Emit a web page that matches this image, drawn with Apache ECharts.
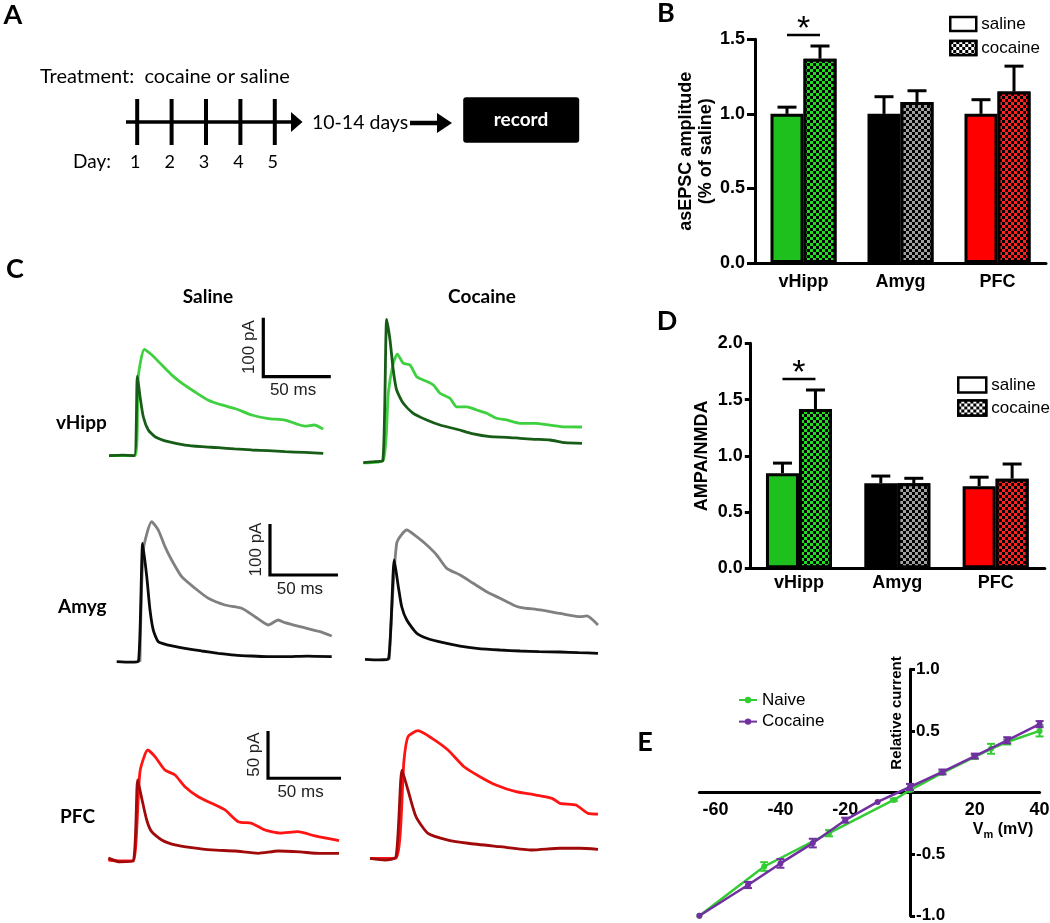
<!DOCTYPE html>
<html>
<head>
<meta charset="utf-8">
<script src="https://cdn.jsdelivr.net/npm/echarts@6/dist/echarts.min.js"></script>
<style>html,body{margin:0;padding:0;background:#fff}#c{width:1050px;height:923px}</style>
</head>
<body>
<div id="c"></div>
<script>
// ---------------- DATA ----------------
const days = [1, 2, 3, 4, 5];
const regions = ['vHipp', 'Amyg', 'PFC'];
const significant = [true, false, false];

// Panel B: asEPSC amplitude (fraction of saline)
const asEpscSaline = [1.00, 1.00, 1.00];
const asEpscSalineErr = [0.045, 0.115, 0.095];
const asEpscCocaine = [1.37, 1.08, 1.15];
const asEpscCocaineErr = [0.085, 0.075, 0.17];

// Panel D: AMPA/NMDA
const ampaNmdaSaline = [0.845, 0.755, 0.73];
const ampaNmdaSalineErr = [0.09, 0.065, 0.08];
const ampaNmdaCocaine = [1.415, 0.755, 0.797];
const ampaNmdaCocaineErr = [0.17, 0.045, 0.13];

// Panel E: I-V relation
const ivNaiveVm = [-65, -45, -25, -5, 0, 10, 20, 25, 30, 40];
const ivNaiveI = [-1.0, -0.60, -0.33, -0.06, 0.02, 0.16, 0.29, 0.355, 0.41, 0.50];
const ivNaiveErr = [0, 0.035, 0.025, 0.01, 0.01, 0.01, 0.015, 0.04, 0.02, 0.045];
const ivCocaineVm = [-65, -50, -40, -30, -20, -10, 0, 10, 20, 30, 40];
const ivCocaineI = [-1.0, -0.75, -0.575, -0.41, -0.224, -0.076, 0.045, 0.167, 0.296, 0.424, 0.555];
const ivCocaineErr = [0, 0.025, 0.035, 0.035, 0.02, 0, 0.025, 0.02, 0.02, 0.025, 0.025];

// Panel C: traces [time ms, current pA]
const vHippSalineFast = [[0,0],[10,1],[18.7,0],[21,135],[23,100],[25.4,66],[29.1,43.6],[34.1,32.2],[43.9,23.7],[56.3,18],[68.7,15.3],[81,13.6],[93,11.5],[105.7,9.7],[118,8.5],[130.4,6.8],[145,5.5],[158.7,4]];
const vHippSalineSlow = [[0,0],[19.3,0],[21.7,134],[26.1,180],[31.6,171],[39,154],[46.4,137],[53.9,123],[63.7,108],[73.6,94],[83.5,86],[93.3,80],[105.7,69],[118,63],[130.4,60.5],[145.2,50],[152,52],[158.7,45]];
const vHippCocaineFast = [[0,-1.4],[8,0],[14.4,1.2],[17.3,241],[19.8,206],[22.2,155],[24.7,121.5],[29.6,99],[37,82],[47,70.7],[56.8,62.2],[69.2,55],[81.5,47],[93.9,42.4],[106.2,41.4],[116.1,39.7],[127,38],[138.3,36.8],[149.4,32.2],[162,31]];
const vHippCocaineSlow = [[0,-2],[14.8,3],[18.5,116],[22.2,167],[25.2,182.5],[29.6,167],[34.6,164],[39.6,144],[44.5,138.5],[51.9,130],[56.8,116],[64.2,107.5],[69.2,93],[76.6,93],[84,87.6],[91.4,82],[98.8,73.6],[106.2,70.7],[116.1,65],[127.2,65],[138.3,62],[149.4,59],[162,58.8]];
const amygSalineFast = [[0,0],[10,-1],[15.9,0],[19.1,232],[22.1,166.7],[24.5,101],[26.9,62],[30.6,39],[37.9,32.7],[50.2,26.3],[62.5,21],[74.7,16.5],[87,13],[99.3,11.2],[111,10],[123.8,9.8],[140,11],[158.1,9.8]];
const amygSalineSlow = [[17.1,0],[19.6,219],[25.7,274.5],[30.6,258],[35.5,225.5],[40.4,199.4],[47.8,166.7],[57.6,144],[67.4,124.3],[79.6,111.2],[91.9,104.7],[101.7,88.2],[111.5,72],[118.8,81.8],[123.8,76.5],[134.8,68.6],[149.5,58.8],[158.1,50.4]];
const amygCocaineFast = [[0,0],[10,-1],[17.1,0],[21.5,194.7],[24.5,142.4],[27,103],[30.7,77],[38,51],[45.4,41.2],[57.6,32.5],[69.9,26],[82.1,21.6],[99.3,18.2],[114,16.3],[128,15],[143.4,14.3],[157,13],[171.3,11.8]];
const amygCocaineSlow = [[17.9,0],[23.3,227.5],[30.7,253.5],[38,240.4],[45.4,224],[52.7,204.5],[60.1,178.4],[69.9,165.3],[79.6,149],[89.5,132.5],[99.3,119.6],[109,106.5],[114,102],[128.7,96.7],[143.4,90],[158.1,83.5],[163,85],[171.3,67.3]];
const pfcSalineFast = [[0,2],[8,-2],[17.1,-1],[20.1,84.6],[22.9,65.2],[26.3,42.3],[29.7,29.9],[36.6,21.1],[45.7,15.9],[57.1,13],[70.8,10.6],[86.8,9.5],[102.7,7.1],[116.4,9.5],[131.3,8.5],[145,7],[158,7.1]];
const pfcSalineSlow = [[0,0],[8,-1],[17.1,-1],[21.7,93.3],[27,116.3],[32,109.2],[38.8,95.1],[45.7,89.9],[52.5,77.5],[61.6,66.9],[70.8,59.9],[79.9,52.9],[89,40.5],[98.2,38.8],[107.3,31.7],[117.6,28.5],[129.9,29.9],[141.6,25.4],[158,20.4]];
const pfcCocaineFast = [[0,0],[10.3,-1.8],[17.8,1.4],[21.9,93.3],[26,72.2],[31.5,44],[39.7,26.4],[53.4,19.3],[67.1,15.9],[89,12.3],[111,8.8],[130.1,10.6],[143.8,10.6],[156.2,9.5]];
const pfcCocaineSlow = [[0,0],[17.8,0.3],[23.3,103.9],[26,128.5],[32.9,134.9],[42.5,126.8],[53.4,114.5],[64.4,96.8],[75.3,86.3],[86.3,77.5],[100,70.4],[113.7,66.9],[124.7,63.4],[130.1,58.1],[141.1,56.3],[149.3,47.5],[156.2,46.8]];

// scale bars (per row): anchor [ms, pA], lengths
const scaleBarAnchor = [[114.3, 134], [112.7, 170], [109.4, 86.4]];
const scaleBarMs = [50, 50, 50];
const scaleBarPa = [100, 100, 50];

// ---------------- STYLE / LAYOUT ----------------
const ARIAL = '"Liberation Sans", Arial, sans-serif';
const CAL = 'Lato, "Open Sans", sans-serif';
const salineColors = ['#1ec01e', '#000000', '#ff0000'];
const cocaineDots = ['#22dd22', '#a0a0a0', '#ff2020'];
const greenIV = '#33cc33', purpleIV = '#7030a0';

function checker(color) {
  return { symbol: 'rect', symbolSize: 1, color: color, dashArrayX: [[3, 3], [0, 3, 3, 0]], dashArrayY: [3, 0], rotation: 0 };
}

const cells = [
  { x0: 109,   y0: 455.7, ms: 1.35, pa: 0.59,  iMin: -20, iMax: 260 },
  { x0: 363.3, y0: 461.7, ms: 1.35, pa: 0.59,  iMin: -20, iMax: 260 },
  { x0: 116.7, y0: 661.7, ms: 1.36, pa: 0.51,  iMin: -20, iMax: 300 },
  { x0: 365,   y0: 659.3, ms: 1.36, pa: 0.51,  iMin: -20, iMax: 300 },
  { x0: 108.3, y0: 860,   ms: 1.46, pa: 0.946, iMin: -20, iMax: 150 },
  { x0: 370,   y0: 858.3, ms: 1.46, pa: 0.946, iMin: -20, iMax: 150 }
];
const T_MAX = 180;

const traces = [
  [0, vHippSalineSlow, '#3fd03f'], [0, vHippSalineFast, '#175c17'],
  [1, vHippCocaineSlow, '#3fd03f'], [1, vHippCocaineFast, '#175c17'],
  [2, amygSalineSlow, '#808080'], [2, amygSalineFast, '#0a0a0a'],
  [3, amygCocaineSlow, '#808080'], [3, amygCocaineFast, '#0a0a0a'],
  [4, pfcSalineSlow, '#ff1414'], [4, pfcSalineFast, '#a00a0a'],
  [5, pfcCocaineSlow, '#ff1414'], [5, pfcCocaineFast, '#a00a0a']
];

// Panel E axis ranges
const E_X = [-65, 40], E_Y = [-1, 1];
const E_GRID = { left: 699.4, top: 669.3, width: 340.2, height: 246.5 };

// ---------------- GRIDS & AXES ----------------
const grids = [
  { left: 102.8, top: 98, width: 481.6, height: 48 },            // 0: A
  { left: 755, top: 39.3, width: 291, height: 223.7 },           // 1: B
  { left: 749.8, top: 343.3, width: 295, height: 225 },          // 2: D
  E_GRID                                                         // 3: E
];
cells.forEach(c => grids.push({ left: c.x0, top: c.y0 - c.iMax * c.pa, width: T_MAX * c.ms, height: (c.iMax - c.iMin) * c.pa }));
grids.forEach(g => { g.containLabel = false; g.outerBoundsMode = 'none'; });

const blackLine = { color: '#000', width: 3 };
const boldLab = { color: '#000', fontFamily: ARIAL, fontWeight: 'bold', fontSize: 18 };

// crossing axes of E: shift each axis to the other's zero
const eYOffset = -((0 - E_X[0]) / (E_X[1] - E_X[0])) * E_GRID.width;
const eXOffset = -((0 - E_Y[0]) / (E_Y[1] - E_Y[0])) * E_GRID.height;

const xAxes = [
  { gridIndex: 0, type: 'value', min: 0, max: 14, show: false },
  { gridIndex: 1, type: 'category', data: regions,
    axisLine: { lineStyle: blackLine }, axisTick: { alignWithLabel: true, length: 6, lineStyle: blackLine },
    axisLabel: Object.assign({ margin: 10 }, boldLab) },
  { gridIndex: 2, type: 'category', data: regions,
    axisLine: { lineStyle: blackLine }, axisTick: { alignWithLabel: true, length: 6, lineStyle: blackLine },
    axisLabel: Object.assign({ margin: 6 }, boldLab) },
  { gridIndex: 3, type: 'value', min: E_X[0], max: E_X[1], minInterval: 20, maxInterval: 20, position: 'bottom', offset: eXOffset,
    axisLine: { onZero: false, lineStyle: blackLine }, axisTick: { show: false }, splitLine: { show: false },
    axisLabel: Object.assign({ margin: 8, formatter: v => (Math.round(v) % 20 === 0 && Math.round(v) !== 0) ? String(Math.round(v)) : '' }, boldLab) }
];
const yAxes = [
  { gridIndex: 0, type: 'value', min: -1, max: 1, show: false },
  { gridIndex: 1, type: 'value', min: 0, max: 1.5, interval: 0.5,
    axisLine: { show: true, lineStyle: blackLine }, axisTick: { show: true, length: 8, lineStyle: blackLine },
    splitLine: { show: false },
    axisLabel: Object.assign({ margin: 10, formatter: v => v.toFixed(1) }, boldLab),
    name: 'asEPSC amplitude\n(% of saline)', nameLocation: 'middle', nameRotate: 90, nameGap: 37,
    nameTextStyle: { color: '#000', fontFamily: ARIAL, fontWeight: 'bold', fontSize: 18, lineHeight: 20 } },
  { gridIndex: 2, type: 'value', min: 0, max: 2, interval: 0.5,
    axisLine: { show: true, lineStyle: blackLine }, axisTick: { show: true, length: 5, lineStyle: blackLine },
    splitLine: { show: false },
    axisLabel: Object.assign({ margin: 7, formatter: v => v.toFixed(1) }, boldLab),
    name: 'AMPA/NMDA', nameLocation: 'middle', nameRotate: 90, nameGap: 39,
    nameTextStyle: { color: '#000', fontFamily: ARIAL, fontWeight: 'bold', fontSize: 18 } },
  { gridIndex: 3, type: 'value', min: E_Y[0], max: E_Y[1], interval: 0.5, position: 'left', offset: eYOffset,
    axisLine: { show: true, onZero: false, lineStyle: blackLine },
    axisTick: { show: true, inside: true, length: 5, lineStyle: blackLine },
    splitLine: { show: false },
    axisLabel: { inside: true, margin: 6, color: '#000', fontFamily: ARIAL, fontWeight: 'bold', fontSize: 17,
      formatter: v => Math.abs(v) < 1e-9 ? '' : v.toFixed(1) } }
];
cells.forEach((c, i) => {
  xAxes.push({ gridIndex: 4 + i, type: 'value', min: 0, max: T_MAX, show: false });
  yAxes.push({ gridIndex: 4 + i, type: 'value', min: c.iMin, max: c.iMax, show: false });
});

// ---------------- SERIES ----------------
const series = [];

// Panel A: day ticks
series.push({
  type: 'custom', xAxisIndex: 0, yAxisIndex: 0, data: days.map(d => [d, 0]), z: 5,
  renderItem: (params, api) => {
    const p = api.coord([api.value(0), 0]);
    return { type: 'group', children: [
      { type: 'line', shape: { x1: p[0], y1: p[1] - 23, x2: p[0], y2: p[1] + 23 }, style: { stroke: '#000', lineWidth: 4 } },
      { type: 'text', x: p[0] - 2, y: p[1] + 40, style: { text: String(api.value(0)), fill: '#000', fontSize: 18, fontFamily: CAL,
        align: 'center', verticalAlign: 'middle', textAlign: 'center', textVerticalAlign: 'middle' } }
    ] };
  }
});

function barPanel(xi, sal, salErr, coc, cocErr) {
  series.push({
    type: 'bar', name: 'saline', xAxisIndex: xi, yAxisIndex: xi, barWidth: 33, barGap: '0%', z: 2,
    itemStyle: { borderColor: '#000', borderWidth: 3 },
    data: sal.map((v, i) => ({ value: v, itemStyle: { color: salineColors[i], borderColor: '#000', borderWidth: 3 } }))
  });
  series.push({
    type: 'bar', name: 'cocaine', xAxisIndex: xi, yAxisIndex: xi, barWidth: 33, barGap: '0%', z: 2,
    itemStyle: { borderColor: '#000', borderWidth: 3 },
    data: coc.map((v, i) => ({ value: v, itemStyle: { color: '#000', borderColor: '#000', borderWidth: 3, decal: checker(cocaineDots[i]) } }))
  });
  const errData = sal.map((v, i) => [i, v, salErr[i], -1]).concat(coc.map((v, i) => [i, v, cocErr[i], 1]));
  series.push({
    type: 'custom', xAxisIndex: xi, yAxisIndex: xi, data: errData, z: 3,
    renderItem: (params, api) => {
      const b = api.coord([api.value(0), api.value(1)]);
      const t = api.coord([api.value(0), api.value(1) + api.value(2)]);
      const x = b[0] + api.value(3) * 16.5;
      return { type: 'group', children: [
        { type: 'line', shape: { x1: x, y1: b[1], x2: x, y2: t[1] }, style: { stroke: '#000', lineWidth: 3 } },
        { type: 'line', shape: { x1: x - 9.5, y1: t[1], x2: x + 9.5, y2: t[1] }, style: { stroke: '#000', lineWidth: 3 } }
      ] };
    }
  });
  const sigData = [];
  significant.forEach((s, i) => { if (s) sigData.push([i, Math.max(sal[i] + salErr[i], coc[i] + cocErr[i])]); });
  series.push({
    type: 'custom', xAxisIndex: xi, yAxisIndex: xi, data: sigData, z: 3,
    renderItem: (params, api) => {
      const p = api.coord([api.value(0), api.value(1)]);
      const y = p[1] - 11;
      return { type: 'group', children: [
        { type: 'line', shape: { x1: p[0] - 16.5, y1: y, x2: p[0] + 16.5, y2: y }, style: { stroke: '#000', lineWidth: 2.5 } },
        { type: 'text', x: p[0], y: y - 5, style: { text: '*', fill: '#000', fontSize: 34, fontFamily: ARIAL,
          align: 'center', verticalAlign: 'middle', textAlign: 'center', textVerticalAlign: 'middle' } }
      ] };
    }
  });
}
barPanel(1, asEpscSaline, asEpscSalineErr, asEpscCocaine, asEpscCocaineErr);
barPanel(2, ampaNmdaSaline, ampaNmdaSalineErr, ampaNmdaCocaine, ampaNmdaCocaineErr);

// Panel E
function ivSeries(name, vm, cur, err, color, z) {
  series.push({
    type: 'line', name: name, xAxisIndex: 3, yAxisIndex: 3, z: z,
    data: vm.map((v, i) => [v, cur[i]]), symbol: 'circle', symbolSize: 6, showSymbol: true,
    lineStyle: { color: color, width: 2.5 }, itemStyle: { color: color }
  });
  series.push({
    type: 'custom', xAxisIndex: 3, yAxisIndex: 3, z: z,
    data: vm.map((v, i) => [v, cur[i], err[i]]),
    renderItem: (params, api) => {
      const e = api.value(2);
      if (!e) return null;
      const lo = api.coord([api.value(0), api.value(1) - e]);
      const hi = api.coord([api.value(0), api.value(1) + e]);
      const st = { stroke: color, lineWidth: 2 };
      return { type: 'group', children: [
        { type: 'line', shape: { x1: lo[0], y1: lo[1], x2: hi[0], y2: hi[1] }, style: st },
        { type: 'line', shape: { x1: lo[0] - 4, y1: lo[1], x2: lo[0] + 4, y2: lo[1] }, style: st },
        { type: 'line', shape: { x1: hi[0] - 4, y1: hi[1], x2: hi[0] + 4, y2: hi[1] }, style: st }
      ] };
    }
  });
}
ivSeries('Naive', ivNaiveVm, ivNaiveI, ivNaiveErr, greenIV, 4);
ivSeries('Cocaine', ivCocaineVm, ivCocaineI, ivCocaineErr, purpleIV, 5);

// Panel C traces
traces.forEach((tr, k) => {
  const gi = 4 + tr[0];
  series.push({
    type: 'line', name: 'trace' + k, xAxisIndex: gi, yAxisIndex: gi, data: tr[1],
    showSymbol: false, symbol: 'none', smooth: 0.2, z: 2 + (k % 2),
    lineStyle: { color: tr[2], width: 2.8 }
  });
});
// scale bars (in saline cells)
scaleBarAnchor.forEach((a, r) => {
  const gi = 4 + r * 2;
  series.push({
    type: 'custom', xAxisIndex: gi, yAxisIndex: gi, z: 6,
    data: [[a[0], a[1], scaleBarMs[r], scaleBarPa[r]]],
    renderItem: (params, api) => {
      const t0 = api.value(0), i0 = api.value(1), dt = api.value(2), di = api.value(3);
      const c = api.coord([t0, i0]), cx = api.coord([t0 + dt, i0]), cy = api.coord([t0, i0 + di]);
      const ts = { fill: '#222', fontSize: 17, fontFamily: ARIAL, align: 'center', verticalAlign: 'middle', textAlign: 'center', textVerticalAlign: 'middle' };
      return { type: 'group', children: [
        { type: 'polyline', shape: { points: [[cy[0], cy[1]], [c[0], c[1]], [cx[0], cx[1]]] }, style: { stroke: '#000', lineWidth: 3.2, fill: null } },
        { type: 'text', x: c[0] - 14, y: (c[1] + cy[1]) / 2, rotation: Math.PI / 2, style: Object.assign({ text: di + ' pA' }, ts) },
        { type: 'text', x: (c[0] + cx[0]) / 2 - 4, y: c[1] + 14, style: Object.assign({ text: dt + ' ms' }, ts) }
      ] };
    }
  });
});

// ---------------- GRAPHIC (labels, schematic) ----------------
function T(x, y, text, size, weight, family, align, extra) {
  return Object.assign({ type: 'text', x: x, y: y, z: 20, style: { text: text, fill: '#000', fontSize: size, fontWeight: weight, fontFamily: family,
    align: align || 'left', verticalAlign: 'middle', textAlign: align || 'left', textVerticalAlign: 'middle' } }, extra || {});
}
const recordLabel = T(521, 120, 'record', 19, 'bold', CAL, 'center', { z: 21 });
recordLabel.style.fill = '#fff';
const graphics = [
  T(13, 15, 'A', 27, 'bold', CAL, 'center'),
  T(666, 13, 'B', 27, 'bold', CAL, 'center'),
  T(15, 269, 'C', 27, 'bold', CAL, 'center'),
  T(667, 321, 'D', 27, 'bold', CAL, 'center'),
  T(645, 742, 'E', 27, 'bold', CAL, 'center'),
  T(40, 77, 'Treatment:  cocaine or saline', 20, 'normal', CAL),
  T(73, 162, 'Day:', 19, 'normal', CAL),
  { type: 'line', z: 20, shape: { x1: 126, y1: 122, x2: 294, y2: 122 }, style: { stroke: '#000', lineWidth: 3.5 } },
  { type: 'polygon', z: 20, shape: { points: [[291, 112], [302.5, 122], [291, 132]] }, style: { fill: '#000' } },
  T(312, 123, '10-14 days', 19.5, 'normal', CAL),
  { type: 'line', z: 20, shape: { x1: 410, y1: 123, x2: 440, y2: 123 }, style: { stroke: '#000', lineWidth: 4.5 } },
  { type: 'polygon', z: 20, shape: { points: [[437, 113], [452, 123], [437, 133]] }, style: { fill: '#000' } },
  { type: 'rect', z: 20, shape: { x: 463.2, y: 97.3, width: 116, height: 45.4, r: 3 }, style: { fill: '#000' } },
  recordLabel,
  T(208, 297, 'Saline', 19, 'bold', CAL, 'center'),
  T(482, 297, 'Cocaine', 19, 'bold', CAL, 'center'),
  T(56, 423, 'vHipp', 19, 'bold', CAL),
  T(58, 607, 'Amyg', 19, 'bold', CAL),
  T(60, 817, 'PFC', 19, 'bold', CAL),
  T(897, 713, 'Relative current', 15, 'bold', ARIAL, 'center', { rotation: Math.PI / 2 }),
  { type: 'text', x: 1003, y: 830, z: 20, style: {
      text: '{a|V}{s|m}{a| (mV)}', fill: '#000', align: 'center', verticalAlign: 'middle', textAlign: 'center', textVerticalAlign: 'middle',
      rich: { a: { fontSize: 16, fontWeight: 'bold', fontFamily: ARIAL, lineHeight: 20, verticalAlign: 'middle' },
              s: { fontSize: 11, fontWeight: 'bold', fontFamily: ARIAL, lineHeight: 20, verticalAlign: 'bottom', padding: [8, 0, 0, 0] } } } }
];

const option = {
  animation: false,
  backgroundColor: '#fff',
  textStyle: { fontFamily: ARIAL },
  grid: grids,
  xAxis: xAxes,
  yAxis: yAxes,
  legend: [
    { orient: 'vertical', left: 944, top: 10, itemWidth: 26, itemHeight: 14, itemGap: 6, selectedMode: false,
      textStyle: { fontSize: 17, fontFamily: ARIAL, color: '#000', lineHeight: 18 },
      data: [ { name: 'saline', icon: 'rect', itemStyle: { color: '#fff', borderColor: '#000', borderWidth: 2.5, decal: 'none' } },
              { name: 'cocaine', icon: 'rect', itemStyle: { color: '#000', borderColor: '#000', borderWidth: 2.5, decal: checker('#ffffff') } } ] },
    { orient: 'vertical', left: 952, top: 371, itemWidth: 28, itemHeight: 15, itemGap: 5, selectedMode: false,
      textStyle: { fontSize: 17, fontFamily: ARIAL, color: '#000', lineHeight: 18 },
      data: [ { name: 'saline', icon: 'rect', itemStyle: { color: '#fff', borderColor: '#000', borderWidth: 2.5, decal: 'none' } },
              { name: 'cocaine', icon: 'rect', itemStyle: { color: '#000', borderColor: '#000', borderWidth: 2.5, decal: checker('#ffffff') } } ] },
    { orient: 'vertical', left: 733, top: 686, itemWidth: 18, itemHeight: 8, itemGap: 3.6, selectedMode: false,
      textStyle: { fontSize: 17, fontFamily: ARIAL, color: '#000', lineHeight: 18 },
      data: ['Naive', 'Cocaine'] }
  ],
  series: series,
  graphic: { elements: graphics }
};

const chart = echarts.init(document.getElementById('c'), null, { renderer: 'canvas' });
chart.setOption(option);
</script>
</body>
</html>
